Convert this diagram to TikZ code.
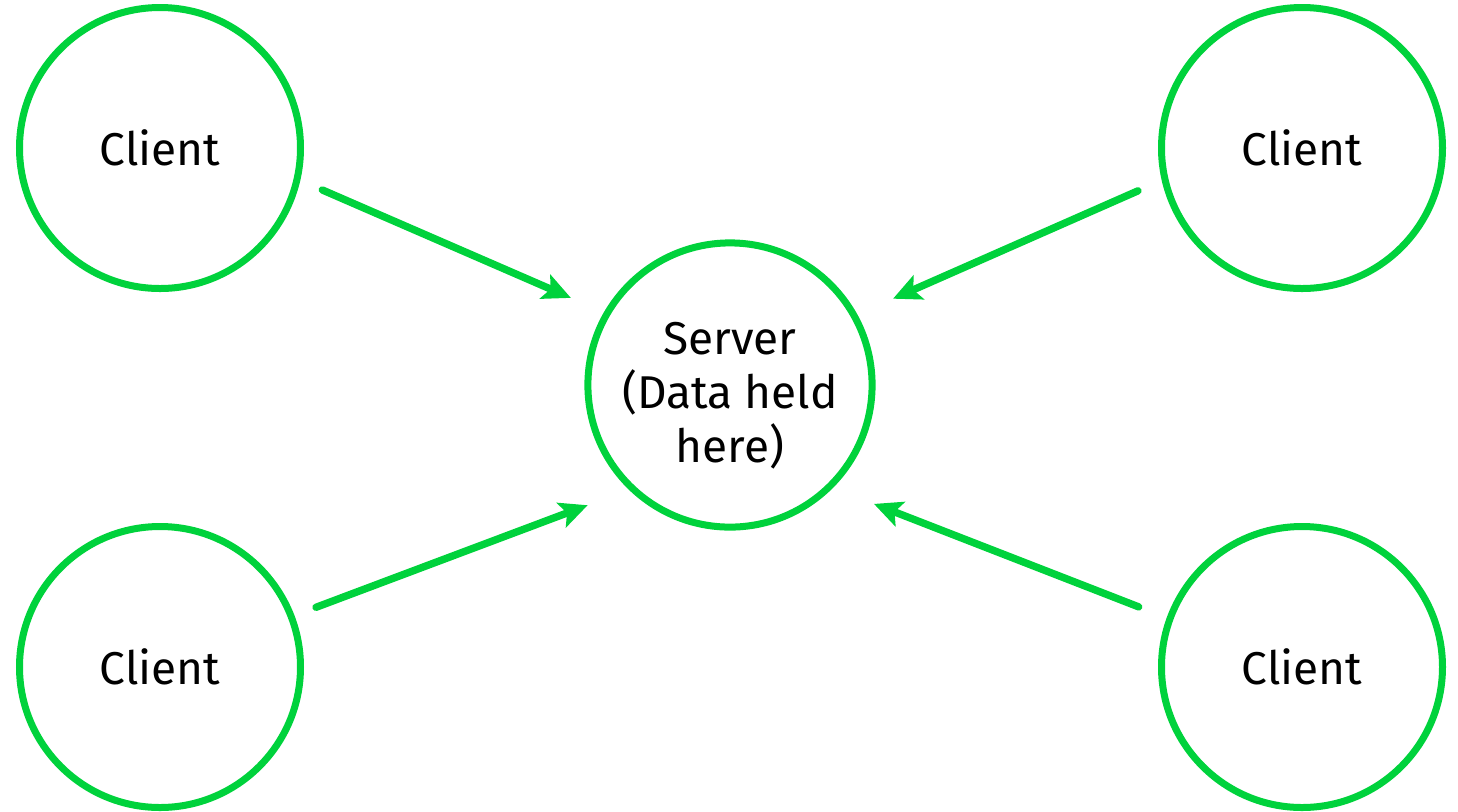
\documentclass[tikz,border=0pt]{standalone}
\usepackage{fontspec}
\setmainfont{Fira Sans}
\usepackage{xcolor}
\usetikzlibrary{arrows.meta}
\definecolor{nodegreen}{RGB}{0,210,60}

\begin{document}
\begin{tikzpicture}[x=0.5pt,y=-0.5pt,>={Stealth[length=14pt,width=13pt,inset=3pt]},
  peer/.style={circle,draw=nodegreen,line width=3.5pt,minimum size=140.5pt,inner sep=0pt,
    font=\fontsize{23}{25.5}\selectfont,align=center},
  link/.style={->,draw=nodegreen,line width=3.7pt,line cap=round}]
  \useasboundingbox (0,0) rectangle (1458,811);
  \node[peer] (srv) at (730,385) {\raisebox{0pt}[\dimexpr\height+13pt\relax]{\begin{tabular}{@{}c@{}}Server\\(Data held\\here)\end{tabular}}};
  \node[peer] (tl) at (160,148) {Client};
  \node[peer] (tr) at (1302,148) {Client};
  \node[peer] (bl) at (160,667) {Client};
  \node[peer] (br) at (1302,667) {Client};
  \draw[link,shorten <=12pt,shorten >=18pt] (tl.-13) -- (srv.150.5);
  \draw[link,shorten <=13pt,shorten >=19.5pt] (tr.-167) -- (srv.29);
  \draw[link,shorten <=11.5pt,shorten >=22pt] (bl.21) -- (srv.-134);
  \draw[link,shorten <=15pt,shorten >=22pt] (br.160) -- (srv.-45.5);
\end{tikzpicture}
\end{document}
